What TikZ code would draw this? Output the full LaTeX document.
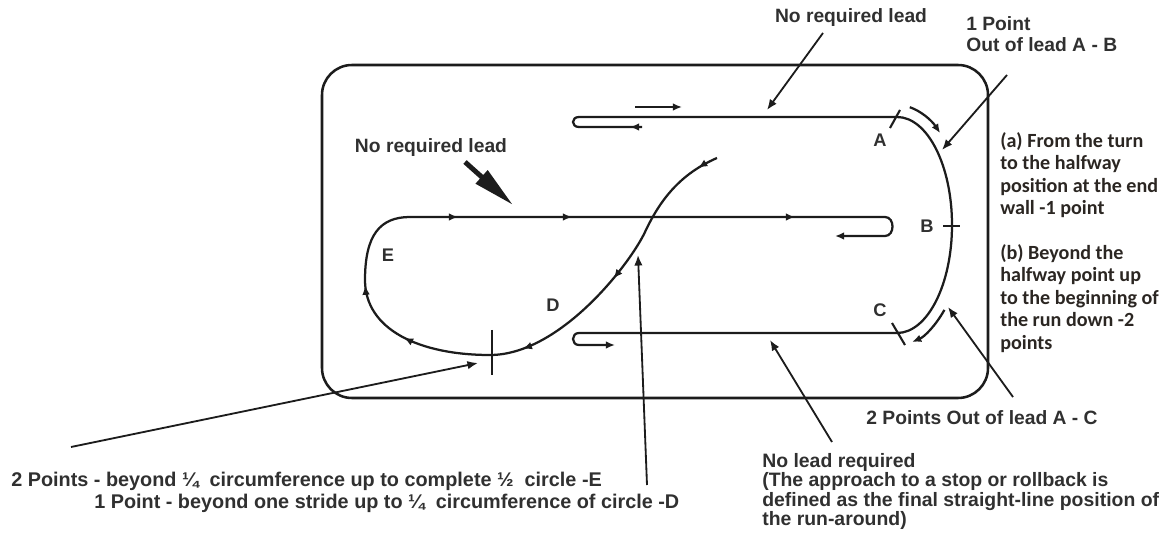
\documentclass[tikz,border=0pt]{standalone}
\usepackage{fontspec}
\setmainfont{Liberation Sans}
\newfontfamily\notefont{Carlito}
\usetikzlibrary{arrows.meta,decorations.markings}

\definecolor{ink}{HTML}{1C1C1C}
\definecolor{labelgray}{HTML}{303030}
\definecolor{notecol}{HTML}{2B2622}

\tikzset{
  arrowat/.style={postaction={decorate,decoration={markings,
      mark=at position #1 with {\arrow{Latex[length=6.5pt,width=5.5pt]}}}}}
}

\begin{document}
\begin{tikzpicture}[x=0.025cm,y=-0.025cm,
    track/.style={draw=ink,line width=1.6pt},
    leader/.style={draw=ink,line width=1.3pt,-{Latex[length=7.5pt,width=6pt]}},
    tick/.style={draw=ink,line width=1.5pt},
    lbl/.style={font=\bfseries\fontsize{13.7}{15}\selectfont,text=labelgray,inner sep=0pt},
    letter/.style={font=\bfseries\fontsize{13}{15}\selectfont,text=labelgray,inner sep=0pt},
    note/.style={font=\notefont\bfseries\fontsize{14.3}{16}\selectfont,text=notecol,
      inner sep=0pt,align=left,anchor=north west}]

\useasboundingbox (0,0) rectangle (1165,544);

% arena
\draw[track,line width=1.8pt,rounded corners=0.75cm] (322,65) rectangle (988,398);

% run-down, turn at the end wall, run-up
\draw[track,arrowat=0.3cm,-{Latex[length=6.5pt,width=5.5pt]}]
  (642,127) -- (579,127) .. controls (571,127) and (571,117) .. (579,117)
  -- (897,117) .. controls (927.4,117) and (952,165.4) .. (952,225)
  .. controls (952,284.6) and (927.4,333) .. (897,333)
  -- (579,333) .. controls (571,333) and (571,345) .. (579,345) -- (615,345);
\draw[track,-{Latex[length=6.5pt,width=5.5pt]}] (635,107) -- (682,107);

\draw[track,-{Latex[length=6.5pt,width=5.5pt]}]
  (909.8,107.2) .. controls (920.9,111.1) and (931.4,120.0) .. (940.1,133.1);
\draw[track,-{Latex[length=6.5pt,width=5.5pt]}]
  (944.4,309.9) .. controls (935.5,325.8) and (924.3,336.9) .. (912.1,341.9);

\draw[tick] (900,110) -- (890,128);
\draw[tick] (943,226) -- (960,226);
\draw[tick] (892,323) -- (905,345);
\node[letter] (A) at (880,140) {A};
\node[letter] (B) at (927,226) {B};
\node[letter] (C) at (880,310) {C};

% circle and straight run
\draw[track,arrowat=0.53cm,arrowat=4.05cm,arrowat=6.95cm,arrowat=10cm,arrowat=11.7cm]
  (717,158) .. controls (680,174) and (660,200) .. (645,232)
  .. controls (630,264) and (560,355) .. (490,355)
  .. controls (420,355) and (365,330) .. (365,280)
  .. controls (365,235) and (380,217) .. (410,217);
\draw[track,arrowat=1.2cm,arrowat=4.05cm,arrowat=9.62cm,-{Latex[length=6.5pt,width=5.5pt]}]
  (410,217) -- (885,217) .. controls (895,217) and (895,236) .. (885,236) -- (835,236);
\draw[tick] (492,330) -- (492,375);
\node[letter] (D) at (553,305) {D};
\node[letter] (E) at (388,255) {E};

% labels
\node[lbl] (nrlTop) at (851,18) {No required lead};
\node[lbl,align=left,anchor=north west] (onePoint) at (966,16) {1 Point\\Out of lead A - B};
\node[lbl] (nrlIn) at (431,148) {No required lead};
\node[lbl] (twoPoints) at (982,418) {2 Points Out of lead A - C};
\node[lbl,align=left,anchor=north west,font=\bfseries\fontsize{13.8}{13.8}\selectfont]
  (noLead) at (762,453) {No lead required\\(The approach to a stop or rollback is\\
  defined as the final straight-line position of\\the run-around)};
\node[lbl,anchor=west,font=\bfseries\fontsize{14.1}{15}\selectfont] (ptsE) at (11,481)
  {2 Points - beyond ¼\ \ circumference up to complete ½\ \ circle -E};
\node[lbl,anchor=west,font=\bfseries\fontsize{14.1}{15}\selectfont] (ptsD) at (94,503)
  {1 Point - beyond one stride up to ¼\ \ circumference of circle -D};

\node[note] (noteA) at (1000,132) {(a) From the turn\\to the halfway\\position at the end\\wall -1 point};
\node[note] (noteB) at (1000,244) {(b) Beyond the\\halfway point up\\to the beginning of\\the run down -2\\points};

% leaders
\coordinate (tailTop) at (823,33);    \coordinate (tipTop) at (767,110);
\coordinate (tailAB) at (1007,75);    \coordinate (tipAB) at (942,150);
\coordinate (tailIn) at (465,162);    \coordinate (tipIn) at (513,205);
\coordinate (tailAC) at (1013,397);   \coordinate (tipAC) at (948,307);
\coordinate (tailLead) at (832,442);  \coordinate (tipLead) at (770,340);
\coordinate (tailE) at (71,447);      \coordinate (tipE) at (478,363);
\coordinate (tailD) at (647,485);     \coordinate (tipD) at (638,255);

\draw[leader] (tailTop) -- (tipTop);
\draw[leader] (tailAB) -- (tipAB);
\draw[draw=ink,line width=3.5pt,-{Triangle[length=30pt,width=12pt]}] (tailIn) -- (tipIn);
\draw[leader] (tailAC) -- (tipAC);
\draw[leader] (tailLead) -- (tipLead);
\draw[leader] (tailE) -- (tipE);
\draw[leader] (tailD) -- (tipD);
\end{tikzpicture}
\end{document}
